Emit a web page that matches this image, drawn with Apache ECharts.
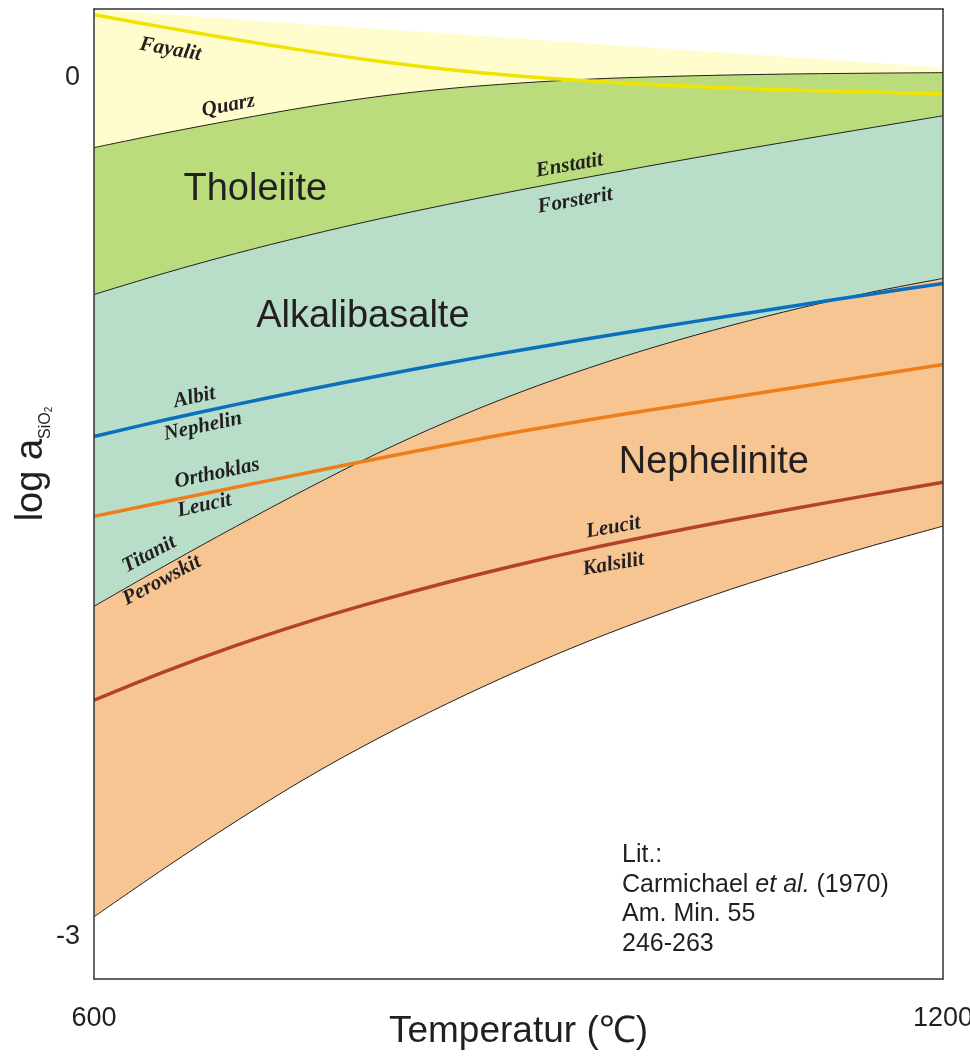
<!DOCTYPE html>
<html>
<head>
<meta charset="utf-8">
<script src="https://cdn.jsdelivr.net/npm/echarts@6/dist/echarts.min.js"></script>
<style>
  html, body { margin: 0; padding: 0; background: #fff; }
  #chart { width: 970px; height: 1058px; }
</style>
</head>
<body>
<div id="chart"></div>
<script>
// temperature grid (degC) shared by all curves
var temps = [600, 650, 700, 750, 800, 850, 900, 950, 1000, 1050, 1100, 1150, 1200];

// phase boundaries, log aSiO2
var upperT = [600, 1200];
var upperLimit = [0.238, 0.035];
var quarz = [-0.2445, -0.1938, -0.1467, -0.1030, -0.0664, -0.0384, -0.0192, -0.0052, 0.0035, 0.0094, 0.0133, 0.0157, 0.0175];
var enstatit = [-0.7579, -0.6831, -0.6147, -0.5525, -0.4952, -0.4428, -0.3936, -0.3468, -0.3017, -0.2581, -0.2158, -0.1743, -0.1331];
var titanit = [-1.8475, -1.7061, -1.5695, -1.4378, -1.3135, -1.2014, -1.1015, -1.0139, -0.9356, -0.8662, -0.8040, -0.7491, -0.7016];
var lowerLimit = [-2.9326, -2.7625, -2.6001, -2.4479, -2.3110, -2.1867, -2.0725, -1.9684, -1.8744, -1.7881, -1.7096, -1.6359, -1.5674];

// buffer reactions
var fayalit = [0.2200, 0.1757, 0.1334, 0.0936, 0.0580, 0.0283, 0.0056, -0.0119, -0.0255, -0.0360, -0.0440, -0.0503, -0.0559];
var albit = [-1.2538, -1.1965, -1.1427, -1.0917, -1.0432, -0.9971, -0.9534, -0.9115, -0.8714, -0.8322, -0.7938, -0.7558, -0.7194];
var orthoklas = [-1.5332, -1.4822, -1.4316, -1.3813, -1.3317, -1.2835, -1.2377, -1.1955, -1.1560, -1.1176, -1.0795, -1.0411, -1.0023];
var leucit = [-2.1758, -2.0756, -1.9848, -1.9034, -1.8304, -1.7634, -1.7022, -1.6460, -1.5947, -1.5468, -1.5014, -1.4571, -1.4141];

var xTicks = [600, 1200];
var yTicks = [0, -3];

// annotations: text, temperature, log aSiO2, angle
var fieldNames = [
  ['Tholeiite', 714, -0.391],
  ['Alkalibasalte', 790, -0.835],
  ['Nephelinite', 1038, -1.345]
];
var mineralNames = [
  ['Fayalit', 654, 0.098, -10],
  ['Quarz', 695, -0.098, 11],
  ['Enstatit', 936, -0.307, 10],
  ['Forsterit', 940, -0.430, 10],
  ['Albit', 671, -1.118, 12],
  ['Nephelin', 677, -1.219, 12],
  ['Orthoklas', 687, -1.383, 12],
  ['Leucit', 678, -1.495, 12],
  ['Titanit', 639, -1.666, 28],
  ['Perowskit', 648, -1.757, 28],
  ['Leucit', 967, -1.572, 10],
  ['Kalsilit', 967, -1.701, 10]
];

function pairs(xs, ys) {
  return xs.map(function (x, i) { return [x, ys[i]]; });
}

function field(name, ys, fill, edge, xs) {
  return {
    name: name,
    type: 'line',
    data: pairs(xs || temps, ys),
    smooth: 0.35,
    symbol: 'none',
    silent: true,
    lineStyle: { color: '#231f20', width: edge },
    areaStyle: { color: fill, opacity: 1, origin: 'start' }
  };
}

function buffer(name, ys, color) {
  return {
    name: name,
    type: 'line',
    data: pairs(temps, ys),
    smooth: 0.35,
    symbol: 'none',
    silent: true,
    lineStyle: { color: color, width: 3.5 }
  };
}

var frame = { show: true, onZero: false, lineStyle: { color: '#333', width: 1.5 } };
var plain = function (v) { return String(v); };

var chart = echarts.init(document.getElementById('chart'));
chart.setOption({
  animation: false,
  backgroundColor: '#fff',
  textStyle: { fontFamily: 'Liberation Sans, Arial, sans-serif', color: '#231f20' },
  grid: { left: 94, right: 27, top: 9, bottom: 79, outerBoundsMode: 'none' },
  xAxis: [{
    type: 'value', min: 600, max: 1200, z: 10,
    axisLine: frame, axisTick: { show: false }, splitLine: { show: false },
    axisLabel: { customValues: xTicks, formatter: plain, fontSize: 27, color: '#231f20', margin: 26 },
    name: 'Temperatur (\u2103)', nameLocation: 'middle', nameGap: 34, nameMoveOverlap: false,
    nameTextStyle: { fontSize: 37, color: '#231f20' }
  }, {
    type: 'value', min: 600, max: 1200, position: 'top', z: 10,
    axisLine: frame, axisTick: { show: false }, axisLabel: { show: false }, splitLine: { show: false }
  }],
  yAxis: [{
    type: 'value', min: -3.15, max: 0.24, z: 10,
    axisLine: frame, axisTick: { show: false }, splitLine: { show: false },
    axisLabel: { customValues: yTicks, formatter: plain, fontSize: 27, color: '#231f20', margin: 14 },
    name: '{m|log a}{s|SiO}{t|2}', nameLocation: 'middle', nameGap: 40, nameMoveOverlap: false,
    nameTextStyle: {
      padding: [0, 0, 0, 60],
      rich: {
        m: { fontSize: 38, lineHeight: 44, color: '#231f20' },
        s: { fontSize: 16, lineHeight: 16, verticalAlign: 'bottom', color: '#231f20' },
        t: { fontSize: 10, lineHeight: 10, verticalAlign: 'bottom', color: '#231f20' }
      }
    }
  }, {
    type: 'value', min: -3.15, max: 0.24, position: 'right', z: 10,
    axisLine: frame, axisTick: { show: false }, axisLabel: { show: false }, splitLine: { show: false }
  }],
  series: [
    field('Obergrenze', upperLimit, '#fffccd', 0, upperT),
    field('Quarz', quarz, '#badc7c', 1),
    field('Enstatit', enstatit, '#b8deca', 1),
    field('Titanit', titanit, '#f6c592', 1),
    field('Untergrenze', lowerLimit, '#ffffff', 1),
    buffer('Fayalit', fayalit, '#f2e200'),
    buffer('Albit', albit, '#0a70be'),
    buffer('Orthoklas', orthoklas, '#ee7e1c'),
    buffer('Leucit', leucit, '#b4422b'),
    {
      type: 'scatter', symbolSize: 0, silent: true, z: 5,
      itemStyle: { opacity: 1 },
      data: fieldNames.map(function (d) {
        return { name: d[0], value: [d[1], d[2]] };
      }),
      label: { show: true, position: 'inside', formatter: '{b}', fontSize: 38, color: '#231f20' }
    },
    {
      type: 'scatter', symbolSize: 0, silent: true, z: 5,
      itemStyle: { opacity: 1 },
      data: mineralNames.map(function (d) {
        return { name: d[0], value: [d[1], d[2]], label: { rotate: d[3] } };
      }),
      label: {
        show: true, position: 'inside', formatter: '{b}',
        fontFamily: 'Liberation Serif, Times New Roman, serif',
        fontStyle: 'italic', fontWeight: 'bold', fontSize: 21, color: '#231f20'
      }
    }
  ],
  graphic: [{
    type: 'text', left: 622, top: 843, z: 100, silent: true,
    style: {
      text: '{n|Lit.:}\n{n|Carmichael }{i|et al.}{n| (1970)}\n{n|Am. Min. 55}\n{n|246-263}',
      rich: {
        n: { fontSize: 25, lineHeight: 29.5, fontFamily: 'Liberation Sans, Arial, sans-serif', fill: '#231f20' },
        i: { fontSize: 25, lineHeight: 29.5, fontStyle: 'italic', fontFamily: 'Liberation Sans, Arial, sans-serif', fill: '#231f20' }
      }
    }
  }]
});
</script>
</body>
</html>
